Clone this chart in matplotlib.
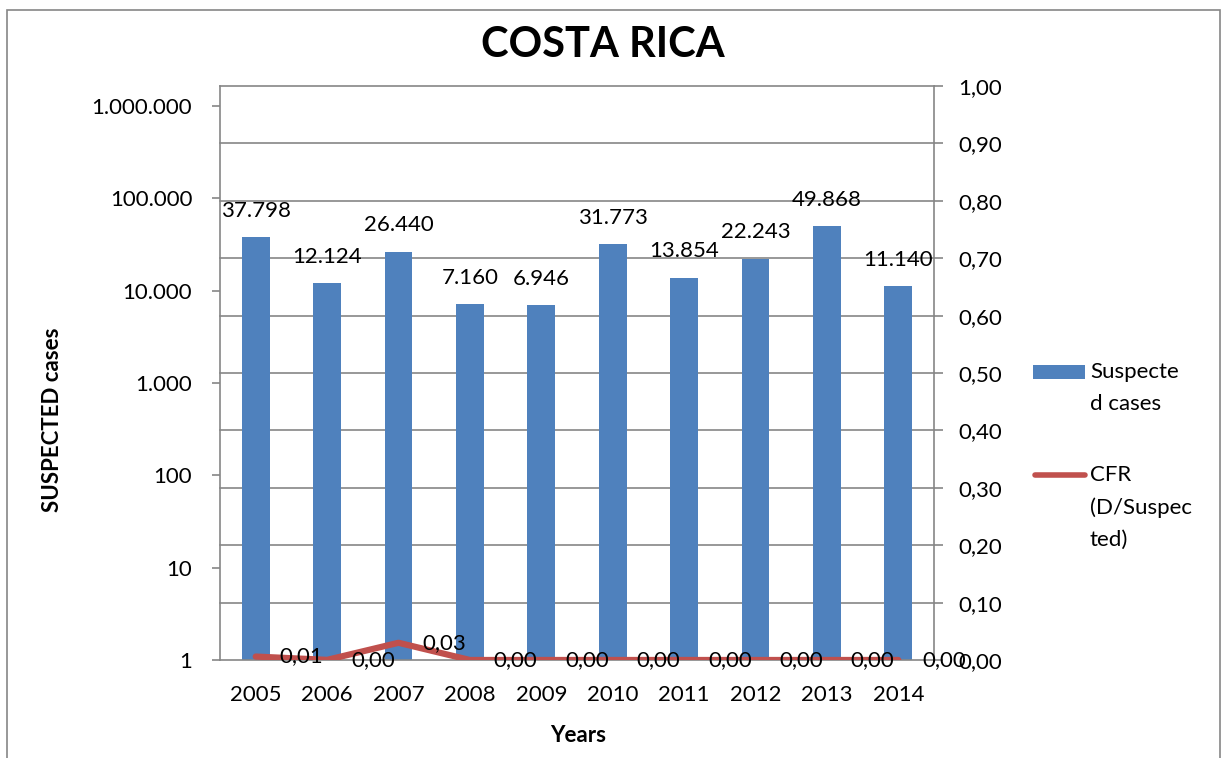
import numpy as np
import matplotlib.pyplot as plt
import matplotlib.transforms as mtransforms
from matplotlib.patches import Rectangle
from matplotlib.lines import Line2D

plt.rcParams['font.family'] = ['Lato', 'DejaVu Sans']

years = ['2005', '2006', '2007', '2008', '2009', '2010', '2011', '2012', '2013', '2014']
suspected = [37798, 12124, 26440, 7160, 6946, 31773, 13854, 22243, 49868, 11140]
cfr = [0.006, 0.0002, 0.03, 0.0, 0.0, 0.0, 0.0, 0.0, 0.0, 0.0]

left_ticks = [1, 10, 100, 1000, 10000, 100000, 1000000]
right_ticks = np.arange(0, 1.01, 0.1)

bar_color = '#4F81BD'
line_color = '#C0504D'
grey = '#868686'

W, H = 1221, 758
fig = plt.figure(figsize=(W / 100, H / 100), dpi=100)

# chart border
fig.add_artist(Rectangle((7 / W, -0.05), (1220 - 7) / W, 1.05 - 10 / H,
                         transform=fig.transFigure, fill=False,
                         edgecolor=grey, linewidth=1.2))

ax = fig.add_axes([220 / W, 1 - 660 / H, (934 - 220) / W, (660 - 86) / H])
ax2 = ax.twinx()

x = np.arange(len(years))

# bars on the log axis
ax.bar(x, suspected, width=0.39, color=bar_color, zorder=2)
ax.set_yscale('log')
ax.set_ylim(1, 10 ** (574 / 92.33))
ax.set_xlim(-0.5, len(years) - 0.5)
ax.set_yticks(left_ticks)
ax.set_yticklabels([f"{t:,}".replace(',', '.') for t in left_ticks])
ax.minorticks_off()
ax.set_xticks(x)
ax.set_xticklabels(years)

for xi, v in zip(x, suspected):
    ax.annotate(f"{v:,}".replace(',', '.'), (xi, v), xytext=(0, 19),
                textcoords='offset points', ha='center', va='center',
                fontsize=16, zorder=3)

# CFR line on the right axis
ax2.plot(x, cfr, color=line_color, linewidth=4.5, solid_capstyle='round', zorder=3)
ax2.set_ylim(0, 1)
ax2.set_yticks(right_ticks)
ax2.set_yticklabels([f"{t:.2f}".replace('.', ',') for t in right_ticks])
for xi, v in zip(x, cfr):
    ax2.annotate(f"{v:.2f}".replace('.', ','), (xi, v), xytext=(33, 0),
                 textcoords='offset points', ha='center', va='center',
                 fontsize=16)

# horizontal gridlines follow the right axis ticks, behind the bars
blend = mtransforms.blended_transform_factory(ax.transAxes, ax2.transData)
for t in right_ticks[1:]:
    ax.plot([0, 1], [t, t], transform=blend, color=grey, linewidth=1.2,
            zorder=1, clip_on=False)

for a in (ax, ax2):
    for s in a.spines.values():
        s.set_visible(False)
ax.spines['left'].set_visible(True)
ax.spines['bottom'].set_visible(True)
ax2.spines['right'].set_visible(True)
for s in (ax.spines['left'], ax.spines['bottom'], ax2.spines['right']):
    s.set_color(grey)
    s.set_linewidth(1.2)

ax.tick_params(axis='y', direction='out', length=6, width=1.2, color=grey,
               labelsize=16, pad=14)
ax.tick_params(axis='x', length=0, labelsize=16, pad=18)
ax2.tick_params(axis='y', direction='out', length=6.5, width=1.2, color=grey,
                labelsize=16, pad=11)

fig.text(603 / W, 1 - 45 / H, 'COSTA RICA', ha='center', va='center',
         fontsize=30, fontweight='bold')
fig.text(53 / W, 1 - 420 / H, 'SUSPECTED cases', ha='center', va='center',
         rotation=90, fontsize=16, fontweight='bold')
fig.text(578 / W, 1 - 735 / H, 'Years', ha='center', va='center',
         fontsize=16, fontweight='bold')

# legend
fig.add_artist(Rectangle((1033 / W, 1 - 379 / H), 52 / W, 14 / H,
                         transform=fig.transFigure, facecolor=bar_color,
                         edgecolor='none'))
fig.text(1090 / W, 1 - 372 / H, 'Suspecte', ha='left', va='center', fontsize=16)
fig.text(1090 / W, 1 - 404 / H, 'd cases', ha='left', va='center', fontsize=16)
fig.add_artist(Line2D([1035 / W, 1085 / W], [1 - 475 / H, 1 - 475 / H],
                      transform=fig.transFigure, color=line_color,
                      linewidth=4, solid_capstyle='round'))
for i, s in enumerate(['CFR', '(D/Suspec', 'ted)']):
    fig.text(1090 / W, 1 - (475 + 32.5 * i) / H, s, ha='left', va='center',
             fontsize=16)

fig.savefig('out.png', dpi=100)
